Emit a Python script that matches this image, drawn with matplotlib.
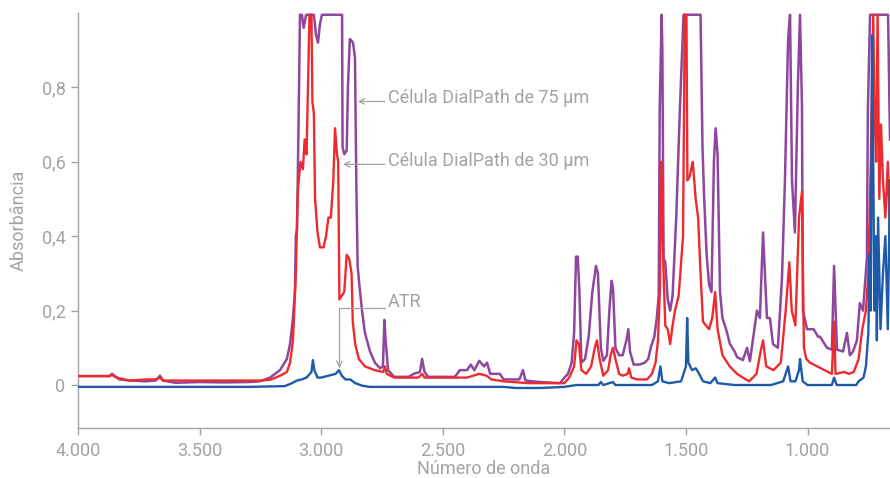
import matplotlib
matplotlib.use("Agg")
import matplotlib.pyplot as plt
from matplotlib.ticker import FixedLocator

plt.rcParams['font.family'] = ['Roboto', 'DejaVu Sans']

# ---------------- data ----------------
purple_wn = [4000, 3870, 3860, 3848, 3830, 3786, 3720, 3680, 3663, 3650, 3600, 3500, 3400, 3300, 3252,
             3210, 3169, 3141, 3128, 3116, 3108, 3104, 3099, 3095, 3091, 3087, 3079, 3072, 3062, 3046,
             3030, 3021, 3013, 3005, 2997, 2960, 2914, 2912, 2905, 2895, 2890, 2882, 2869, 2861, 2855,
             2850, 2843, 2832, 2820, 2799, 2779, 2758, 2746, 2740, 2735, 2725, 2700, 2640, 2620, 2594,
             2585, 2575, 2560, 2450, 2430, 2400, 2385, 2370, 2350, 2330, 2318, 2305, 2265, 2250, 2185,
             2170, 2160, 2100, 2050, 2018, 2000, 1985, 1970, 1960, 1952, 1945, 1938, 1930, 1915, 1900,
             1885, 1870, 1862, 1850, 1840, 1825, 1815, 1806, 1800, 1790, 1775, 1760, 1745, 1737, 1730,
             1715, 1690, 1670, 1655, 1645, 1630, 1620, 1612, 1608, 1600, 1597, 1592, 1585, 1575, 1565,
             1555, 1540, 1525, 1510, 1440, 1432, 1425, 1415, 1405, 1395, 1385, 1378, 1370, 1360, 1350,
             1335, 1319, 1300, 1290, 1266, 1249, 1237, 1208, 1196, 1183, 1167, 1155, 1142, 1122, 1105,
             1093, 1080, 1072, 1064, 1052, 1040, 1031, 1023, 1019, 1002, 975, 957, 949, 920, 900,
             891, 879, 854, 838, 826, 813, 797, 785, 772, 756, 752, 743, 700, 669, 661]
purple_abs = [0.024, 0.024, 0.030, 0.024, 0.015, 0.012, 0.010, 0.012, 0.025, 0.012, 0.006, 0.008, 0.007, 0.008, 0.010,
              0.020, 0.040, 0.070, 0.110, 0.18, 0.25, 0.40, 0.42, 0.60, 0.80, 0.995, 0.995, 0.96, 0.995, 0.995,
              0.995, 0.94, 0.92, 0.97, 0.995, 0.995, 0.995, 0.64, 0.62, 0.63, 0.80, 0.93, 0.92, 0.88, 0.52,
              0.32, 0.27, 0.20, 0.14, 0.09, 0.06, 0.045, 0.05, 0.175, 0.12, 0.04, 0.022, 0.022, 0.03, 0.035,
              0.07, 0.035, 0.022, 0.022, 0.04, 0.04, 0.055, 0.04, 0.065, 0.05, 0.06, 0.03, 0.03, 0.015, 0.015,
              0.04, 0.012, 0.008, 0.006, 0.005, 0.02, 0.03, 0.06, 0.14, 0.345, 0.345, 0.25, 0.06, 0.07, 0.13,
              0.25, 0.32, 0.30, 0.10, 0.065, 0.08, 0.20, 0.28, 0.26, 0.10, 0.08, 0.08, 0.12, 0.15, 0.09,
              0.055, 0.055, 0.06, 0.07, 0.10, 0.13, 0.18, 0.24, 0.74, 0.995, 0.90, 0.34, 0.33, 0.23, 0.20,
              0.24, 0.45, 0.74, 0.995, 0.995, 0.64, 0.50, 0.35, 0.27, 0.25, 0.60, 0.69, 0.62, 0.25, 0.18,
              0.15, 0.11, 0.09, 0.075, 0.067, 0.10, 0.064, 0.20, 0.18, 0.41, 0.18, 0.18, 0.11, 0.10, 0.29,
              0.55, 0.93, 0.995, 0.55, 0.41, 0.80, 0.995, 0.75, 0.20, 0.15, 0.15, 0.13, 0.13, 0.10, 0.095,
              0.32, 0.095, 0.09, 0.14, 0.08, 0.09, 0.12, 0.22, 0.20, 0.34, 0.74, 0.995, 0.995, 0.995, 0.66]

red_wn = [4000, 3870, 3860, 3848, 3830, 3786, 3720, 3680, 3663, 3650, 3600, 3500, 3400, 3300, 3252,
          3210, 3169, 3141, 3128, 3116, 3104, 3099, 3095, 3085, 3075, 3068, 3060, 3048, 3040, 3036,
          3030, 3025, 3015, 3005, 2990, 2980, 2970, 2960, 2950, 2943, 2935, 2930, 2925, 2915, 2905,
          2895, 2885, 2875, 2870, 2860, 2845, 2820, 2780, 2745, 2738, 2730, 2700, 2600, 2585, 2575,
          2400, 2350, 2320, 2300, 2250, 2150, 2050, 2000, 1980, 1960, 1950, 1940, 1930, 1910, 1890,
          1875, 1866, 1855, 1840, 1820, 1810, 1800, 1790, 1775, 1760, 1740, 1734, 1725, 1700, 1660,
          1640, 1625, 1615, 1607, 1602, 1597, 1592, 1585, 1575, 1565, 1555, 1545, 1530, 1512, 1505,
          1498, 1494, 1485, 1472, 1460, 1450, 1440, 1430, 1405, 1392, 1380, 1370, 1350, 1320, 1290,
          1266, 1240, 1210, 1190, 1183, 1170, 1140, 1110, 1090, 1075, 1065, 1050, 1035, 1023, 1015,
          1005, 990, 960, 930, 900, 891, 885, 850, 830, 810, 790, 775, 760, 750, 740,
          730, 725, 718, 712, 705, 698, 690, 680, 670, 661]
red_abs = [0.024, 0.024, 0.028, 0.022, 0.018, 0.012, 0.015, 0.015, 0.02, 0.012, 0.012, 0.012, 0.012, 0.012, 0.012,
           0.014, 0.025, 0.035, 0.06, 0.12, 0.30, 0.45, 0.53, 0.60, 0.58, 0.66, 0.62, 0.995, 0.995, 0.76,
           0.73, 0.50, 0.41, 0.37, 0.37, 0.40, 0.45, 0.45, 0.55, 0.69, 0.62, 0.60, 0.23, 0.24, 0.25,
           0.35, 0.34, 0.30, 0.17, 0.11, 0.07, 0.05, 0.04, 0.035, 0.05, 0.03, 0.02, 0.02, 0.03, 0.02,
           0.02, 0.03, 0.025, 0.015, 0.01, 0.005, 0.005, 0.005, 0.02, 0.05, 0.12, 0.11, 0.04, 0.03, 0.05,
           0.10, 0.12, 0.07, 0.025, 0.04, 0.08, 0.10, 0.07, 0.03, 0.025, 0.03, 0.045, 0.02, 0.015, 0.015,
           0.03, 0.06, 0.12, 0.26, 0.60, 0.45, 0.30, 0.16, 0.15, 0.11, 0.16, 0.20, 0.24, 0.40, 0.995,
           0.995, 0.55, 0.56, 0.60, 0.50, 0.45, 0.30, 0.17, 0.15, 0.18, 0.25, 0.15, 0.08, 0.05, 0.03,
           0.02, 0.01, 0.03, 0.10, 0.12, 0.05, 0.04, 0.06, 0.20, 0.33, 0.20, 0.16, 0.45, 0.52, 0.10,
           0.07, 0.06, 0.05, 0.04, 0.03, 0.17, 0.03, 0.035, 0.03, 0.035, 0.07, 0.15, 0.20, 0.30, 0.60,
           0.995, 0.75, 0.60, 0.995, 0.50, 0.70, 0.55, 0.45, 0.60, 0.40]

blue_wn = [4000, 3300, 3150, 3120, 3100, 3080, 3060, 3040, 3034, 3028, 3015, 3000, 2970, 2940, 2927,
           2915, 2900, 2880, 2860, 2830, 2800, 2400, 2250, 2200, 2100, 2000, 1950, 1860, 1850, 1840,
           1800, 1790, 1640, 1615, 1605, 1597, 1570, 1520, 1500, 1495, 1490, 1475, 1460, 1450, 1430,
           1400, 1380, 1370, 1300, 1200, 1150, 1100, 1080, 1070, 1050, 1035, 1031, 1020, 1000, 900,
           891, 880, 800, 790, 770, 760, 750, 745, 740, 735, 730, 725, 720, 715, 710,
           700, 690, 680, 670, 661]
blue_abs = [-0.005, -0.005, -0.003, 0.005, 0.012, 0.015, 0.02, 0.035, 0.067, 0.04, 0.02, 0.02, 0.025, 0.03, 0.04,
            0.025, 0.015, 0.015, 0.005, -0.002, -0.005, -0.005, -0.005, -0.008, -0.008, -0.005, 0.0, 0.0, 0.008, 0.0,
            0.008, 0.0, 0.0, 0.01, 0.05, 0.01, 0.005, 0.01, 0.05, 0.18, 0.06, 0.04, 0.045, 0.035, 0.01,
            0.005, 0.02, 0.005, 0.0, 0.0, 0.0, 0.01, 0.05, 0.01, 0.01, 0.04, 0.07, 0.01, 0.0, 0.0,
            0.02, 0.0, 0.0, 0.01, 0.02, 0.05, 0.14, 0.35, 0.20, 0.94, 0.60, 0.20, 0.40, 0.12, 0.45,
            0.15, 0.30, 0.40, 0.15, 0.55]

x_ticks = [4000, 3500, 3000, 2500, 2000, 1500, 1000]
x_tick_labels = ['4.000', '3.500', '3.000', '2.500', '2.000', '1.500', '1.000']
y_ticks = [0.0, 0.2, 0.4, 0.6, 0.8]
y_tick_labels = ['0', '0,2', '0,4', '0,6', '0,8']

label_75 = 'Célula DialPath de 75 µm'
label_30 = 'Célula DialPath de 30 µm'
label_atr = 'ATR'

# ---------------- figure ----------------
GREY = '#a3a3a3'
fig = plt.figure(figsize=(8.9, 4.78), dpi=100)
ax = fig.add_axes([0.0876, 0.105, 0.9124, 0.868])

ax.plot(purple_wn, purple_abs, color='#8f469e', lw=1.8, zorder=2)
ax.plot(red_wn, red_abs, color='#ee2a2e', lw=1.7, zorder=3)
ax.plot(blue_wn, blue_abs, color='#1e5aa8', lw=1.7, zorder=4)

ax.set_xlim(4000, 661)
ax.set_ylim(-0.115, 1.0)

ax.xaxis.set_major_locator(FixedLocator(x_ticks))
ax.set_xticklabels(x_tick_labels)
ax.yaxis.set_major_locator(FixedLocator(y_ticks))
ax.set_yticklabels(y_tick_labels)

for s in ['top', 'right']:
    ax.spines[s].set_visible(False)
for s in ['left', 'bottom']:
    ax.spines[s].set_color(GREY)
    ax.spines[s].set_linewidth(1.0)

ax.tick_params(axis='both', colors=GREY, labelcolor=GREY, labelsize=13, length=5, width=1)
ax.tick_params(axis='x', pad=5)
ax.tick_params(axis='y', pad=4)

ax.set_xlabel('Número de onda', color=GREY, fontsize=13, labelpad=0)
ax.set_ylabel('Absorbância', color=GREY, fontsize=13, labelpad=10)

# annotations
arrow_kw = dict(arrowstyle='->', color=GREY, lw=0.9, shrinkA=0, shrinkB=0)
ax.annotate('', xy=(2849, 0.762), xytext=(2738, 0.762), arrowprops=arrow_kw)
ax.text(2725, 0.772, label_75, color=GREY, fontsize=13, va='center', ha='left')

ax.annotate('', xy=(2910, 0.593), xytext=(2738, 0.593), arrowprops=arrow_kw)
ax.text(2725, 0.603, label_30, color=GREY, fontsize=13, va='center', ha='left')

ax.annotate('', xy=(2925, 0.046), xytext=(2738, 0.207),
            arrowprops=dict(connectionstyle='angle,angleA=0,angleB=90,rad=0', **arrow_kw))
ax.text(2725, 0.222, label_atr, color=GREY, fontsize=13, va='center', ha='left')

fig.savefig('out.png', dpi=100)
